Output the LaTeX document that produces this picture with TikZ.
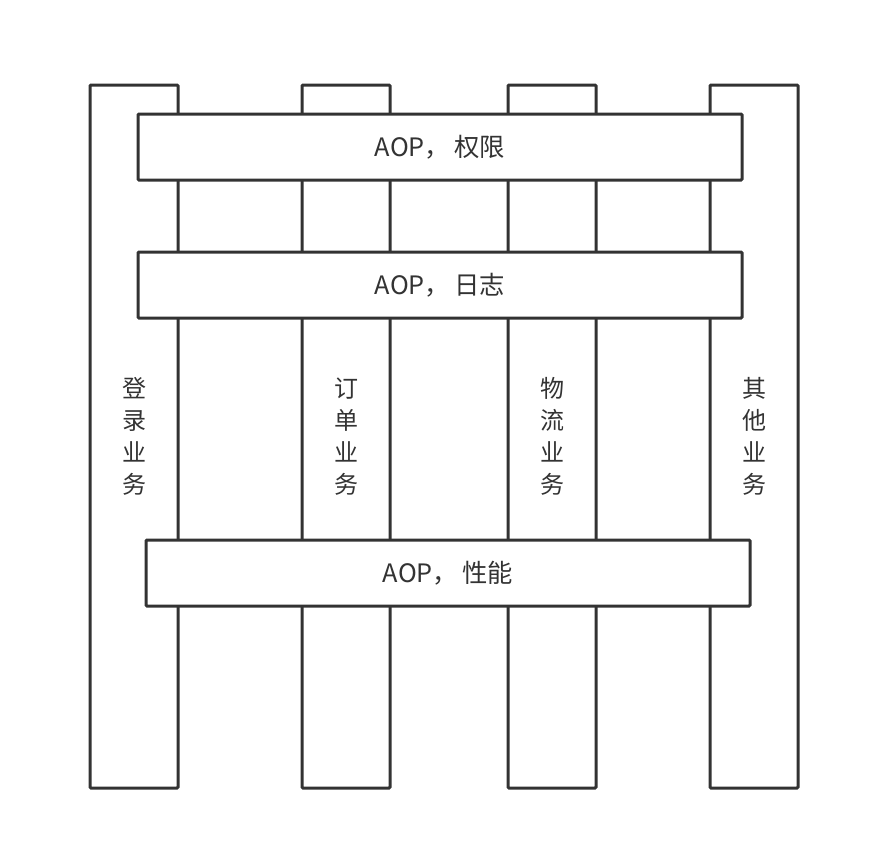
\documentclass[tikz,border=0pt]{standalone}
\usepackage{fontspec}
\setmainfont{Noto Sans CJK SC}
\usetikzlibrary{positioning}
\definecolor{linegray}{HTML}{333333}
\tikzset{every picture/.style={line width=2.25pt}}
\tikzset{
  biz/.style={draw=linegray, rectangle, rounded corners=0.75pt, minimum width=66pt, minimum height=527.25pt, align=center, text=linegray, inner sep=0pt, font=\fontsize{18}{24}\selectfont},
  aop/.style={draw=linegray, fill=white, rectangle, rounded corners=0.75pt, minimum width=453pt, minimum height=49.5pt, text=linegray, font=\fontsize{19}{24}\selectfont}
}

\begin{document}
\begin{tikzpicture}[x=0.75pt,y=-0.75pt]
\useasboundingbox (0,0) rectangle (888,844);
% business columns
\node[biz] (login) at (134,436.5) {登\\录\\业\\务};
\node[biz] (order) at (346,436.5) {订\\单\\业\\务};
\node[biz] (logistics) at (552,436.5) {物\\流\\业\\务};
\node[biz] (other) at (754,436.5) {其\\他\\业\\务};
%
% cross-cutting bars
\node[aop] (auth) at (440,147) {AOP，\,权限};
\node[aop] (log) at (440,285) {AOP，\,日志};
\node[aop] (perf) at (448,573) {AOP，\,性能};
\end{tikzpicture}
\end{document}
